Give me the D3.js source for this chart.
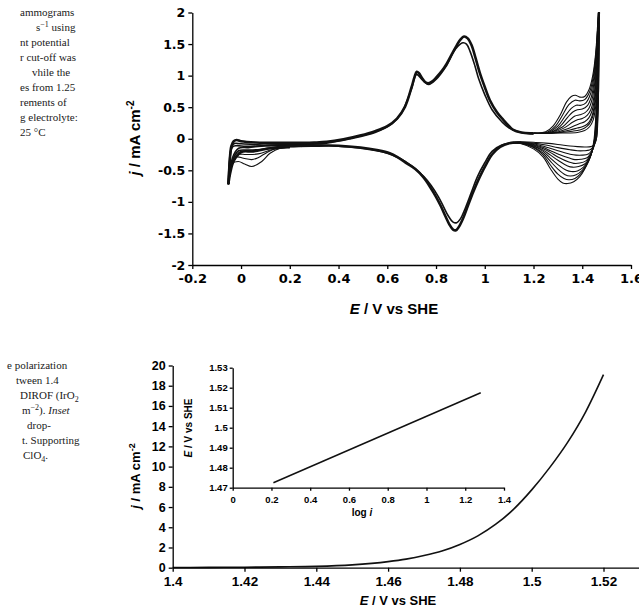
<!DOCTYPE html>
<html>
<head>
<meta charset="utf-8">
<script src="https://cdn.jsdelivr.net/npm/d3@7"></script>
<style>
body{margin:0;background:#fff}
svg{display:block}
.ax text{font-family:"Liberation Sans",Arial,sans-serif;font-weight:bold;fill:#000}
.ax.wide text{font-family:"DejaVu Sans",sans-serif}
.ax path,.ax line{stroke:#000;stroke-width:1.3}
.ttl{font-family:"Liberation Sans",Arial,sans-serif;font-weight:bold;fill:#000}
.cap{font-family:"Liberation Serif","Times New Roman",serif;font-size:11px;fill:#1a1a1a}
.cv{fill:none;stroke:#111;stroke-linejoin:round}
</style>
</head>
<body>
<svg width="639" height="614"></svg>
<script>
// ---- top chart: cyclic voltammograms (E / V, j / mA cm-2)
var cvXTicks = [-0.2,0,0.2,0.4,0.6,0.8,1,1.2,1.4,1.6];
var cvYTicks = [-2,-1.5,-1,-0.5,0,0.5,1,1.5,2];

// shared anodic sweep (outer edge of band)
var anodicBase = [[-0.052,-0.72],[-0.047,-0.4],[-0.04,-0.12],[-0.03,-0.04],[-0.018,-0.02],[0,-0.04],[0.06,-0.06],[0.2,-0.065],[0.3,-0.06],[0.352,-0.05],[0.42,-0.01],[0.488,0.05],[0.55,0.12],[0.6,0.2],[0.64,0.32],[0.673,0.51],[0.7,0.82],[0.712,0.98],[0.721,1.06],[0.73,1.04],[0.741,0.97],[0.755,0.9],[0.768,0.88],[0.785,0.91],[0.803,0.98],[0.825,1.08],[0.844,1.19],[0.865,1.34],[0.885,1.48],[0.9,1.57],[0.915,1.62],[0.93,1.59],[0.946,1.48],[0.962,1.28],[0.98,1.04],[1,0.82],[1.021,0.61],[1.05,0.42],[1.076,0.3],[1.1,0.2],[1.117,0.14],[1.15,0.1],[1.186,0.085],[1.2,0.085]];
var anodicInner = [[-0.052,-0.72],[-0.043,-0.2],[-0.03,-0.08],[0,-0.08],[0.1,-0.1],[0.2,-0.09],[0.35,-0.07],[0.45,0.0],[0.55,0.1],[0.62,0.24],[0.66,0.42],[0.7,0.8],[0.72,1.02],[0.745,0.93],[0.77,0.86],[0.8,0.94],[0.84,1.14],[0.88,1.42],[0.91,1.52],[0.925,1.5],[0.94,1.38],[0.96,1.15],[0.975,0.95],[1,0.7],[1.03,0.46],[1.07,0.27],[1.1,0.17],[1.15,0.1],[1.2,0.08]];
var anodicLow = [[-0.052,-0.72],[-0.045,-0.3],[-0.035,-0.13],[-0.02,-0.11],[0.02,-0.12],[0.1,-0.11],[0.2,-0.09],[0.3,-0.08]];
// shared cathodic sweep
var cathodicBase = [[1.15,-0.06],[1.1,-0.07],[1.063,-0.13],[1.03,-0.25],[1.008,-0.39],[0.98,-0.6],[0.953,-0.84],[0.93,-1.07],[0.91,-1.27],[0.893,-1.4],[0.882,-1.45],[0.87,-1.44],[0.855,-1.36],[0.84,-1.24],[0.82,-1.07],[0.8,-0.92],[0.775,-0.76],[0.748,-0.61],[0.715,-0.48],[0.68,-0.39],[0.645,-0.3],[0.61,-0.23],[0.557,-0.18],[0.49,-0.14],[0.4,-0.11],[0.3,-0.11],[0.2,-0.12],[0.12,-0.15],[0.05,-0.2],[0,-0.21],[-0.03,-0.35],[-0.045,-0.55],[-0.052,-0.72]];
var cathodicInner = [[1.12,-0.06],[1.07,-0.1],[1.03,-0.2],[1,-0.38],[0.97,-0.6],[0.945,-0.85],[0.92,-1.1],[0.9,-1.27],[0.885,-1.33],[0.87,-1.32],[0.85,-1.22],[0.83,-1.07],[0.81,-0.92],[0.78,-0.74],[0.75,-0.6],[0.7,-0.43],[0.65,-0.31],[0.6,-0.23],[0.5,-0.15],[0.4,-0.12],[0.3,-0.1],[0.2,-0.1],[0.1,-0.11],[0.03,-0.14],[-0.01,-0.15],[-0.035,-0.3],[-0.052,-0.72]];
// hydrogen region, individual cycles
var hydrogenA = [[0.2,-0.14],[0.146,-0.15],[0.105,-0.22],[0.07,-0.3],[0.044,-0.33],[0.01,-0.31],[-0.018,-0.29],[-0.04,-0.45],[-0.052,-0.72]];
var hydrogenB = [[0.2,-0.14],[0.16,-0.15],[0.119,-0.23],[0.085,-0.36],[0.044,-0.44],[0.015,-0.4],[-0.011,-0.36],[-0.038,-0.4],[-0.052,-0.72]];
var hydrogenC = [[0.2,-0.14],[0.13,-0.17],[0.07,-0.24],[0.02,-0.25],[-0.01,-0.25],[-0.035,-0.4],[-0.052,-0.72]];
var hydrogenD = [[0.25,-0.12],[0.15,-0.13],[0.08,-0.17],[0.03,-0.18],[-0.01,-0.19],[-0.035,-0.35],[-0.052,-0.72]];

// anodic tails near the upper limit, one per cycle
var anodicTails = [
  [[1.2,0.085],[1.25,0.11],[1.28,0.2],[1.31,0.38],[1.335,0.58],[1.355,0.67],[1.372,0.69],[1.39,0.66],[1.41,0.67],[1.428,0.78],[1.443,1.0],[1.455,1.35],[1.463,1.8],[1.467,2.1]],
  [[1.2,0.085],[1.26,0.11],[1.29,0.2],[1.32,0.38],[1.345,0.54],[1.37,0.61],[1.39,0.6],[1.41,0.62],[1.43,0.74],[1.445,0.98],[1.456,1.35],[1.464,1.8],[1.468,2.1]],
  [[1.2,0.085],[1.26,0.1],[1.3,0.2],[1.33,0.36],[1.355,0.48],[1.375,0.53],[1.395,0.53],[1.415,0.57],[1.433,0.7],[1.447,0.95],[1.457,1.35],[1.464,1.8],[1.468,2.1]],
  [[1.2,0.085],[1.27,0.1],[1.31,0.2],[1.34,0.34],[1.36,0.42],[1.38,0.46],[1.4,0.47],[1.42,0.52],[1.437,0.66],[1.449,0.92],[1.458,1.3],[1.465,1.8],[1.469,2.1]],
  [[1.2,0.085],[1.27,0.1],[1.32,0.19],[1.35,0.3],[1.37,0.36],[1.39,0.38],[1.41,0.41],[1.427,0.48],[1.44,0.62],[1.451,0.88],[1.459,1.3],[1.465,1.8],[1.469,2.1]],
  [[1.2,0.085],[1.28,0.1],[1.33,0.18],[1.36,0.26],[1.38,0.3],[1.4,0.32],[1.42,0.37],[1.435,0.46],[1.445,0.6],[1.453,0.85],[1.46,1.3],[1.466,1.8],[1.47,2.1]],
  [[1.2,0.085],[1.29,0.1],[1.34,0.16],[1.37,0.21],[1.39,0.24],[1.41,0.27],[1.427,0.33],[1.44,0.44],[1.449,0.6],[1.455,0.85],[1.461,1.3],[1.466,1.8],[1.47,2.1]],
  [[1.2,0.085],[1.3,0.1],[1.35,0.14],[1.38,0.17],[1.4,0.19],[1.42,0.23],[1.435,0.31],[1.445,0.43],[1.452,0.6],[1.457,0.85],[1.462,1.3],[1.467,1.8],[1.471,2.1]],
  [[1.2,0.085],[1.31,0.1],[1.36,0.12],[1.39,0.14],[1.41,0.17],[1.43,0.24],[1.442,0.34],[1.45,0.47],[1.455,0.62],[1.46,0.88],[1.464,1.3],[1.468,1.8],[1.471,2.1]],
  [[1.2,0.085],[1.32,0.09],[1.38,0.1],[1.41,0.13],[1.43,0.19],[1.445,0.3],[1.453,0.45],[1.458,0.63],[1.462,0.9],[1.465,1.3],[1.469,1.8],[1.472,2.1]]
];
// cathodic heads from the upper limit, one per cycle
var cathodicHeads = [
  [[1.467,2.1],[1.465,1.5],[1.461,0.8],[1.455,0.3],[1.447,-0.05],[1.432,-0.3],[1.41,-0.48],[1.39,-0.6],[1.365,-0.68],[1.34,-0.71],[1.32,-0.7],[1.3,-0.64],[1.27,-0.48],[1.24,-0.29],[1.2,-0.16],[1.15,-0.08],[1.1,-0.06]],
  [[1.467,2.1],[1.465,1.5],[1.462,0.8],[1.456,0.3],[1.449,-0.04],[1.435,-0.27],[1.415,-0.44],[1.395,-0.55],[1.37,-0.63],[1.345,-0.65],[1.325,-0.63],[1.3,-0.56],[1.27,-0.42],[1.24,-0.26],[1.2,-0.14],[1.15,-0.075],[1.1,-0.06]],
  [[1.468,2.1],[1.466,1.5],[1.463,0.8],[1.457,0.3],[1.45,-0.03],[1.437,-0.24],[1.418,-0.4],[1.4,-0.5],[1.375,-0.57],[1.35,-0.59],[1.33,-0.57],[1.3,-0.48],[1.27,-0.36],[1.24,-0.23],[1.2,-0.13],[1.15,-0.07],[1.1,-0.06]],
  [[1.468,2.1],[1.466,1.5],[1.463,0.8],[1.458,0.3],[1.451,-0.02],[1.44,-0.21],[1.422,-0.36],[1.405,-0.45],[1.38,-0.51],[1.355,-0.52],[1.335,-0.5],[1.3,-0.41],[1.27,-0.31],[1.24,-0.2],[1.2,-0.12],[1.15,-0.07],[1.1,-0.06]],
  [[1.469,2.1],[1.467,1.5],[1.464,0.8],[1.459,0.3],[1.452,-0.01],[1.442,-0.18],[1.427,-0.32],[1.41,-0.4],[1.385,-0.44],[1.36,-0.45],[1.34,-0.43],[1.3,-0.34],[1.27,-0.26],[1.24,-0.18],[1.2,-0.11],[1.15,-0.065],[1.1,-0.06]],
  [[1.469,2.1],[1.467,1.5],[1.464,0.8],[1.46,0.3],[1.453,0],[1.444,-0.15],[1.43,-0.28],[1.415,-0.35],[1.39,-0.385],[1.365,-0.39],[1.345,-0.37],[1.3,-0.29],[1.27,-0.22],[1.24,-0.16],[1.2,-0.1],[1.15,-0.065],[1.1,-0.06]],
  [[1.47,2.1],[1.468,1.5],[1.465,0.8],[1.461,0.3],[1.455,0.01],[1.447,-0.13],[1.434,-0.24],[1.42,-0.3],[1.395,-0.325],[1.37,-0.33],[1.35,-0.31],[1.3,-0.24],[1.27,-0.19],[1.24,-0.14],[1.2,-0.09],[1.15,-0.06],[1.1,-0.06]],
  [[1.47,2.1],[1.468,1.5],[1.466,0.8],[1.462,0.3],[1.457,0.02],[1.45,-0.1],[1.438,-0.19],[1.425,-0.24],[1.4,-0.26],[1.375,-0.26],[1.35,-0.245],[1.3,-0.19],[1.25,-0.13],[1.2,-0.08],[1.15,-0.06],[1.1,-0.06]],
  [[1.471,2.1],[1.469,1.5],[1.467,0.8],[1.463,0.3],[1.459,0.03],[1.452,-0.07],[1.442,-0.14],[1.43,-0.18],[1.405,-0.19],[1.38,-0.19],[1.35,-0.175],[1.3,-0.14],[1.25,-0.1],[1.2,-0.07],[1.15,-0.055],[1.1,-0.06]],
  [[1.471,2.1],[1.469,1.5],[1.467,0.8],[1.464,0.3],[1.46,0.04],[1.455,-0.05],[1.446,-0.1],[1.435,-0.125],[1.41,-0.13],[1.38,-0.125],[1.35,-0.115],[1.3,-0.09],[1.25,-0.07],[1.2,-0.055],[1.15,-0.05],[1.1,-0.06]]
];

// ---- bottom chart: polarization curve
var polE = [1.40,1.41,1.42,1.43,1.44,1.45,1.46,1.465,1.47,1.475,1.48,1.485,1.49,1.495,1.50,1.505,1.51,1.515,1.52];
var polJ = [0.02,0.03,0.05,0.08,0.13,0.28,0.6,0.85,1.2,1.65,2.3,3.15,4.3,5.8,7.7,9.9,12.4,15.4,19.1];
var polXTicks = [1.4,1.42,1.44,1.46,1.48,1.5,1.52];
var polYTicks = [0,2,4,6,8,10,12,14,16,18,20];
// inset: Tafel line
var tafelLogI = [0.21,1.28];
var tafelE = [1.4725,1.5175];
var tafelXTicks = [0,0.2,0.4,0.6,0.8,1,1.2,1.4];
var tafelYTicks = [1.47,1.48,1.49,1.5,1.51,1.52,1.53];

// ---- cropped caption text from the page
var captionTop = [
  {x:20, y:16, t:[["ammograms"]]},
  {x:36, y:31, t:[["s"],["\u22121","sup"],[" using"]]},
  {x:20, y:46, t:[["nt potential"]]},
  {x:20, y:61, t:[["r cut-off was"]]},
  {x:32, y:76, t:[["vhile the"]]},
  {x:20, y:91, t:[["es from 1.25"]]},
  {x:20, y:106, t:[["rements of"]]},
  {x:20, y:121, t:[["g electrolyte:"]]},
  {x:20, y:136, t:[["25 \u00b0C"]]}
];
var captionBottom = [
  {x:7, y:369, t:[["e polarization"]]},
  {x:16, y:384, t:[["tween 1.4"]]},
  {x:20, y:399, t:[["DIROF (IrO"],["2","sub"]]},
  {x:22, y:414, t:[["m"],["\u22122","sup"],["). "],["Inset","it"]]},
  {x:27, y:429, t:[["drop-"]]},
  {x:22, y:444, t:[["t. Supporting"]]},
  {x:23, y:459, t:[["ClO"],["4","sub"],["."]]}
];

var svg = d3.select("svg");

function caption(lines, size){
  lines.forEach(function(l){
    var t = svg.append("text").attr("class","cap").attr("x",l.x).attr("y",l.y).attr("font-size",size);
    var back = 0;
    l.t.forEach(function(s){
      var sp = t.append("tspan").text(s[0]);
      if(back){ sp.attr("dy",back); back = 0; }
      if(s[1]=="sup"){ sp.attr("dy",-4).attr("font-size",8); back = 4; }
      if(s[1]=="sub"){ sp.attr("dy",3).attr("font-size",8); back = -3; }
      if(s[1]=="it") sp.attr("font-style","italic");
    });
  });
}
caption(captionTop, 11);
caption(captionBottom, 11.5);

function fmt(d){ return String(+d.toFixed(2)); }

// ===== top chart
var x = d3.scaleLinear().domain([-0.2,1.6]).range([192.3,631]);
var y = d3.scaleLinear().domain([-2,2]).range([265,12.5]);

svg.append("clipPath").attr("id","cvclip").append("rect")
  .attr("x",x(-0.2)).attr("y",y(2)).attr("width",x(1.6)-x(-0.2)).attr("height",y(-2)-y(2));

var line = d3.line().x(function(d){return x(d[0]);}).y(function(d){return y(d[1]);})
  .curve(d3.curveCatmullRom.alpha(0.5));

var cv = svg.append("g").attr("clip-path","url(#cvclip)");
[anodicInner,cathodicInner,anodicLow,hydrogenD].forEach(function(c){
  cv.append("path").attr("class","cv").attr("d",line(c)).attr("stroke-width",1.6);
});
[anodicBase,cathodicBase].forEach(function(c){
  cv.append("path").attr("class","cv").attr("d",line(c)).attr("stroke-width",2.6);
});
[hydrogenA,hydrogenB,hydrogenC].forEach(function(h){
  cv.append("path").attr("class","cv").attr("d",line(h)).attr("stroke-width",1.1);
});
cv.selectAll("path.tail").data(anodicTails).enter().append("path")
  .attr("class","cv tail").attr("d",line).attr("stroke-width",1.1);
cv.selectAll("path.head").data(cathodicHeads).enter().append("path")
  .attr("class","cv head").attr("d",line).attr("stroke-width",1.1);

svg.append("g").attr("class","ax wide").attr("transform","translate("+x(-0.2)+",0)")
  .call(d3.axisLeft(y).tickValues(cvYTicks).tickFormat(fmt).tickSize(4).tickSizeOuter(0).tickPadding(3))
  .selectAll("text").attr("font-size",12.5);
svg.append("g").attr("class","ax wide").attr("transform","translate(0,"+y(-2)+")")
  .call(d3.axisBottom(x).tickValues(cvXTicks).tickFormat(fmt).tickSize(4).tickSizeOuter(0).tickPadding(5))
  .selectAll("text").attr("font-size",13);

var xt = svg.append("text").attr("class","ttl").attr("x",394).attr("y",314)
  .attr("text-anchor","middle").attr("font-size",15);
xt.append("tspan").attr("font-style","italic").text("E");
xt.append("tspan").text(" / V vs SHE");

var yt = svg.append("text").attr("class","ttl").attr("transform","translate(140,138) rotate(-90)")
  .attr("text-anchor","middle").attr("font-size",15);
yt.append("tspan").attr("font-style","italic").text("j");
yt.append("tspan").text(" / mA cm");
yt.append("tspan").attr("dy",-6).attr("font-size",10).text("-2");

// ===== bottom chart
var x2 = d3.scaleLinear().domain([1.4,1.54]).range([172.7,675.3]);
var y2 = d3.scaleLinear().domain([0,20]).range([567.7,365.5]);
var pol = polE.map(function(e,i){ return [e,polJ[i]]; });
var line2 = d3.line().x(function(d){return x2(d[0]);}).y(function(d){return y2(d[1]);})
  .curve(d3.curveMonotoneX);
svg.append("path").attr("class","cv").attr("d",line2(pol)).attr("stroke-width",1.6);

svg.append("g").attr("class","ax").attr("transform","translate("+x2(1.4)+",0)")
  .call(d3.axisLeft(y2).tickValues(polYTicks).tickSize(4).tickSizeOuter(0).tickPadding(3))
  .selectAll("text").attr("font-size",12.5);
svg.append("g").attr("class","ax").attr("transform","translate(0,"+y2(0)+")")
  .call(d3.axisBottom(x2).tickValues(polXTicks).tickFormat(fmt).tickSize(4).tickSizeOuter(0).tickPadding(5))
  .selectAll("text").attr("font-size",13.5);

var xt2 = svg.append("text").attr("class","ttl").attr("x",398).attr("y",605)
  .attr("text-anchor","middle").attr("font-size",13);
xt2.append("tspan").attr("font-style","italic").text("E");
xt2.append("tspan").text(" / V vs SHE");

var yt2 = svg.append("text").attr("class","ttl").attr("transform","translate(140,476) rotate(-90)")
  .attr("text-anchor","middle").attr("font-size",13);
yt2.append("tspan").attr("font-style","italic").text("j");
yt2.append("tspan").text(" / mA cm");
yt2.append("tspan").attr("dy",-5).attr("font-size",9).text("-2");

// inset
var xi = d3.scaleLinear().domain([0,1.4]).range([232.7,504]);
var yi = d3.scaleLinear().domain([1.47,1.53]).range([487.7,367.7]);
var taf = tafelLogI.map(function(v,i){ return [v,tafelE[i]]; });
svg.append("path").attr("class","cv").attr("stroke-width",1.5)
  .attr("d",d3.line().x(function(d){return xi(d[0]);}).y(function(d){return yi(d[1]);})(taf));

svg.append("g").attr("class","ax").attr("transform","translate("+xi(0)+",0)")
  .call(d3.axisLeft(yi).tickValues(tafelYTicks).tickFormat(fmt).tickSize(3).tickSizeOuter(0).tickPadding(2))
  .selectAll("text").attr("font-size",9.5);
svg.append("g").attr("class","ax").attr("transform","translate(0,"+yi(1.47)+")")
  .call(d3.axisBottom(xi).tickValues(tafelXTicks).tickFormat(fmt).tickSize(3).tickSizeOuter(0).tickPadding(6))
  .selectAll("text").attr("font-size",9.5);

var xt3 = svg.append("text").attr("class","ttl").attr("x",362).attr("y",516)
  .attr("text-anchor","middle").attr("font-size",10);
xt3.append("tspan").text("log ");
xt3.append("tspan").attr("font-style","italic").text("i");

var yt3 = svg.append("text").attr("class","ttl").attr("transform","translate(192,428) rotate(-90)")
  .attr("text-anchor","middle").attr("font-size",10);
yt3.append("tspan").attr("font-style","italic").text("E");
yt3.append("tspan").text(" / V vs SHE");
</script>
</body>
</html>
